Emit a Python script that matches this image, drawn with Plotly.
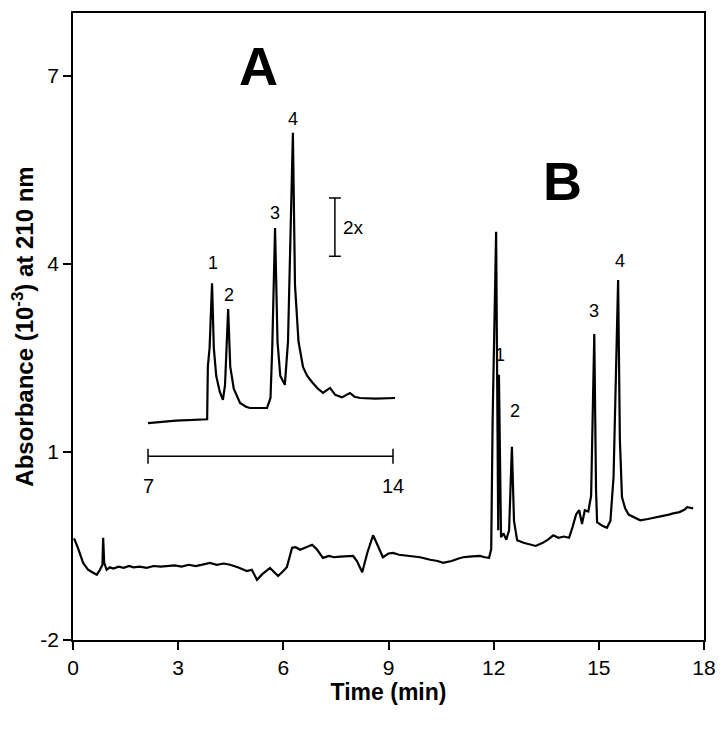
import plotly.graph_objects as go

# ---- Main chromatogram (B) ----
time_b = [0.03, 0.14, 0.29, 0.43, 0.55, 0.68, 0.77, 0.84, 0.86, 0.89, 0.96, 1.05, 1.15, 1.3, 1.45,
          1.6, 1.72, 1.9, 2.1, 2.3, 2.5, 2.68, 2.9, 3.1, 3.3, 3.5, 3.7, 3.91, 4.1, 4.3, 4.48,
          4.7, 4.96, 5.1, 5.25, 5.4, 5.62, 5.75, 5.85, 6.0, 6.1, 6.25, 6.35, 6.48, 6.6, 6.82,
          6.95, 7.13, 7.3, 7.45, 7.62, 7.8, 7.99, 8.1, 8.25, 8.4, 8.56, 8.7, 8.84, 9.0, 9.13,
          9.3, 9.6, 9.9, 10.19, 10.4, 10.56, 10.8, 11.0, 11.13, 11.3, 11.6, 11.75, 11.87, 11.93,
          11.97, 12.07, 12.11, 12.13, 12.15, 12.18, 12.21, 12.28, 12.36, 12.44, 12.52, 12.58,
          12.67, 12.85, 13.04, 13.2, 13.4, 13.55, 13.7, 13.85, 14.0, 14.15, 14.25, 14.35,
          14.44, 14.52, 14.6, 14.7, 14.78, 14.87, 14.92, 14.95, 15.1, 15.23, 15.33, 15.42,
          15.55, 15.6, 15.66, 15.75, 15.85, 15.98, 16.18, 16.4, 16.6, 16.8, 17.0, 17.12,
          17.3, 17.45, 17.52, 17.69]
abs_b = [-0.38, -0.53, -0.77, -0.88, -0.92, -0.96, -0.88, -0.80, -0.37, -0.77, -0.88, -0.84,
         -0.86, -0.83, -0.85, -0.82, -0.84, -0.83, -0.85, -0.82, -0.83, -0.82, -0.81, -0.83,
         -0.80, -0.82, -0.79, -0.77, -0.80, -0.78, -0.80, -0.84, -0.90, -0.88, -1.04, -0.95,
         -0.85, -0.92, -0.98, -0.90, -0.84, -0.53, -0.52, -0.56, -0.53, -0.48, -0.55, -0.69,
         -0.66, -0.68, -0.67, -0.66, -0.66, -0.74, -0.92, -0.60, -0.33, -0.50, -0.68, -0.62,
         -0.61, -0.64, -0.66, -0.68, -0.72, -0.74, -0.77, -0.74, -0.70, -0.68, -0.67, -0.66,
         -0.68, -0.69, -0.55, 1.5, 4.51, 0.2, -0.25, 2.23, 0.3, -0.36, -0.30, -0.40, -0.25,
         1.08, -0.10, -0.41, -0.45, -0.48, -0.50, -0.45, -0.40, -0.33, -0.37, -0.35, -0.37,
         -0.20, 0.00, 0.07, -0.15, 0.07, 0.05, 0.30, 2.88, 0.40, -0.12, -0.18, -0.21, -0.10,
         0.60, 3.74, 1.20, 0.28, 0.10, 0.00, -0.04, -0.09, -0.07, -0.05, -0.03, 0.00, 0.02,
         0.04, 0.08, 0.12, 0.10]
peak_labels_b = ["1", "2", "3", "4"]
peak_label_x_b = [12.19, 12.6, 14.85, 15.6]
peak_label_y_b = [2.55, 1.65, 3.25, 4.05]

x_ticks = [0, 3, 6, 9, 12, 15, 18]
y_ticks = [-2, 1, 4, 7]
y_tick_text = ["-2", "1", "4", "7"]

# ---- Inset chromatogram (A), own time scale 7-14 min ----
time_a = [7.0, 7.8, 8.69, 8.71, 8.76, 8.83, 8.88, 8.95, 9.05, 9.14, 9.2, 9.29, 9.35, 9.45,
          9.63, 9.8, 9.91, 10.11, 10.4, 10.5, 10.55, 10.63, 10.7, 10.78, 10.91, 11.0,
          11.14, 11.2, 11.3, 11.43, 11.55, 11.69, 11.85, 12.0, 12.2, 12.35, 12.54, 12.77,
          12.9, 13.06, 13.5, 14.06]
abs_a = [0.0, 0.04, 0.06, 0.9, 1.2, 2.23, 1.2, 0.75, 0.50, 0.37, 0.6, 1.82, 0.9, 0.55,
         0.32, 0.26, 0.24, 0.24, 0.24, 0.40, 1.2, 3.11, 1.3, 0.75, 0.61, 1.3, 4.63, 2.2,
         1.3, 0.89, 0.75, 0.65, 0.55, 0.48, 0.56, 0.45, 0.41, 0.48, 0.42, 0.40, 0.39, 0.40]
peak_labels_a = ["1", "2", "3", "4"]
peak_label_x_a = [8.85, 9.3, 10.63, 11.14]
peak_label_y_a = [2.55, 2.05, 3.35, 4.85]
inset_range_ticks = [7, 14]

fig = go.Figure()
fig.add_trace(go.Scatter(x=time_b, y=abs_b, mode="lines",
                         line=dict(color="black", width=2.2), showlegend=False))
fig.add_trace(go.Scatter(x=time_a, y=abs_a, mode="lines", xaxis="x2", yaxis="y2",
                         line=dict(color="black", width=2.2), showlegend=False))
# inset time-scale bar
bar_y = -0.53
fig.add_trace(go.Scatter(x=inset_range_ticks, y=[bar_y, bar_y], mode="lines", xaxis="x2",
                         yaxis="y2", line=dict(color="black", width=1.5), showlegend=False))
for t in inset_range_ticks:
    fig.add_trace(go.Scatter(x=[t, t], y=[bar_y - 0.12, bar_y + 0.12], mode="lines",
                             xaxis="x2", yaxis="y2", line=dict(color="black", width=1.5),
                             showlegend=False))
    fig.add_annotation(x=t, y=-1.0, xref="x2", yref="y2", text=str(t), showarrow=False,
                       font=dict(size=20, color="black"))

# 2x scale bar
fig.add_shape(type="line", x0=12.34, x1=12.34, y0=2.66, y1=3.59, xref="x2", yref="y2",
              line=dict(color="black", width=1.5))
for yy in [2.66, 3.59]:
    fig.add_shape(type="line", x0=12.17, x1=12.51, y0=yy, y1=yy, xref="x2", yref="y2",
                  line=dict(color="black", width=1.5))
fig.add_annotation(x=12.5, y=3.12, xref="x2", yref="y2", text="2x", showarrow=False,
                   xanchor="left", font=dict(size=19, color="black"))

for lab, lx, ly in zip(peak_labels_a, peak_label_x_a, peak_label_y_a):
    fig.add_annotation(x=lx, y=ly, xref="x2", yref="y2", text=lab, showarrow=False,
                       font=dict(size=18, color="black"))
for lab, lx, ly in zip(peak_labels_b, peak_label_x_b, peak_label_y_b):
    fig.add_annotation(x=lx, y=ly, xref="x", yref="y", text=lab, showarrow=False,
                       font=dict(size=18, color="black"))

fig.add_annotation(x=5.3, y=7.15, xref="x", yref="y", text="<b>A</b>", showarrow=False,
                   font=dict(size=54, color="black"))
fig.add_annotation(x=13.95, y=5.32, xref="x", yref="y", text="<b>B</b>", showarrow=False,
                   font=dict(size=54, color="black"))

axis_common = dict(showline=True, linecolor="black", linewidth=1.5, mirror=True,
                   ticks="outside", ticklen=8, tickwidth=1.5, tickcolor="black",
                   showgrid=False, zeroline=False, automargin=False,
                   tickfont=dict(size=21, color="black"))

# page body has an 8 px default margin: offset the figure so the plot frame lands
# at x 73..704, y 13..640 in the 726x730 window
fig.update_layout(
    width=718, height=722,
    margin=dict(l=65, r=22, t=5, b=90),
    paper_bgcolor="white", plot_bgcolor="white",
    font=dict(family="Liberation Sans, Arial, sans-serif", color="black"),
    xaxis=dict(range=[0, 18], tickvals=x_ticks,
               title=dict(text="<b>Time (min)</b>", font=dict(size=23), standoff=4),
               **axis_common),
    yaxis=dict(range=[-2, 8], tickvals=y_ticks, ticktext=y_tick_text,
               title=dict(text="<b>Absorbance (10<sup>-3</sup>) at 210 nm</b>",
                          font=dict(size=24), standoff=2),
               **axis_common),
    xaxis2=dict(overlaying="x", range=[4.857, 22.886], visible=False),
    yaxis2=dict(overlaying="y", range=[-3.46, 6.54], visible=False),
)

fig.write_html("out.html")
